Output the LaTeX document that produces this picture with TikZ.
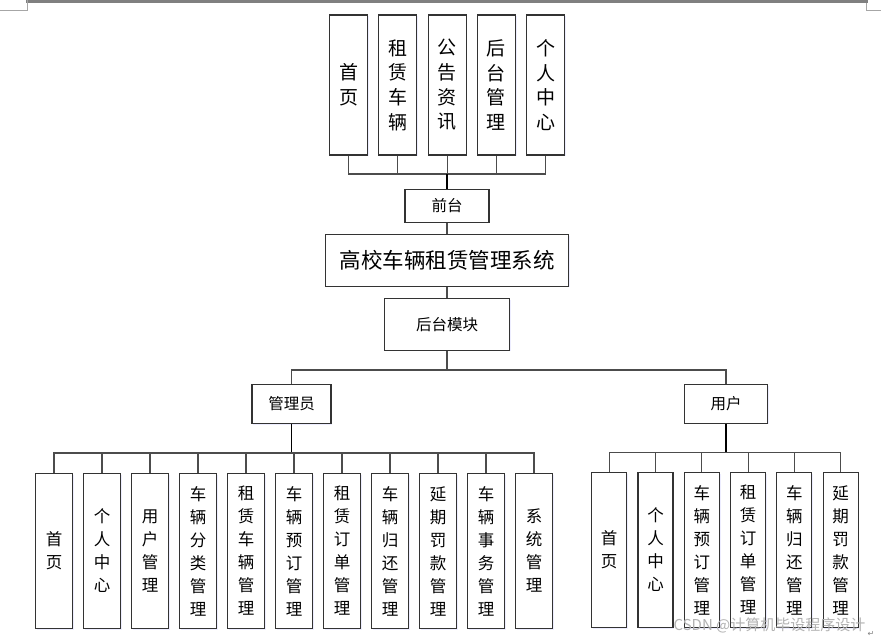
\documentclass[tikz,border=0pt]{standalone}
\usepackage{fontspec}
\newfontfamily\cjk{Noto Sans CJK SC}
\newfontfamily\dejavu{DejaVu Sans}
\usetikzlibrary{shadows}
\begin{document}
\begin{tikzpicture}[x=1pt,y=-1pt,
  box/.style={draw=black!80, line width=1.1pt, fill=white, inner sep=0pt, align=center,
    drop shadow={shadow xshift=1.2pt, shadow yshift=-1.2pt, fill=blue!20, opacity=0.35}},
  tallbox/.style={box, minimum width=38pt, minimum height=140pt, font=\cjk\fontsize{19}{24.7}\selectfont},
  lowbox/.style={box, minimum width=37pt, minimum height=155.4pt, font=\cjk\fontsize{16.5}{23}\selectfont},
  lowboxr/.style={lowbox, minimum width=35pt},
  labbox/.style={box, font=\cjk\fontsize{15.5}{18}\selectfont},
  conn/.style={draw=black!70, line width=1.1pt},
  trunk/.style={draw=black, line width=1.8pt}
]
\useasboundingbox (0,0) rectangle (881,640);
% page marks
\fill[black!50] (26,0) rectangle (868,3.2);
\draw[black!35, line width=0.8pt] (0,10) -- (27,10) -- (27,0);
\draw[black!35, line width=0.8pt] (866,3) -- (866,10) -- (881,10);

% top row
\node[tallbox] (t1) at (348.5,85) {首\\页};
\node[tallbox] (t2) at (397.8,85) {租\\赁\\车\\辆};
\node[tallbox] (t3) at (447.1,85) {公\\告\\资\\讯};
\node[tallbox] (t4) at (496.3,85) {后\\台\\管\\理};
\node[tallbox] (t5) at (545.5,85) {个\\人\\中\\心};

\node[labbox, minimum width=84pt, minimum height=32.7pt] (qt) at (447,205.7) {前台};
\node[box, minimum width=242.6pt, minimum height=51.7pt, font=\cjk\fontsize{21.5}{24}\selectfont] (sys) at (447,260.2) {高校车辆租赁管理系统};
\node[labbox, minimum width=125pt, minimum height=51.7pt] (hm) at (447,324.2) {后台模块};
\node[labbox, minimum width=79pt, minimum height=39.3pt] (gly) at (291.5,403.7) {管理员};
\node[labbox, minimum width=83.4pt, minimum height=38.3pt] (yh) at (726,404) {用户};

% bottom left
\node[lowbox] (a1) at (54,551) {首\\页};
\node[lowbox] (a2) at (102,551) {个\\人\\中\\心};
\node[lowbox] (a3) at (150,551) {用\\户\\管\\理};
\node[lowbox] (a4) at (198,551) {车\\辆\\分\\类\\管\\理};
\node[lowbox] (a5) at (246,551) {租\\赁\\车\\辆\\管\\理};
\node[lowbox] (a6) at (294,551) {车\\辆\\预\\订\\管\\理};
\node[lowbox] (a7) at (342,551) {租\\赁\\订\\单\\管\\理};
\node[lowbox] (a8) at (390,551) {车\\辆\\归\\还\\管\\理};
\node[lowbox] (a9) at (438,551) {延\\期\\罚\\款\\管\\理};
\node[lowbox] (a10) at (486,551) {车\\辆\\事\\务\\管\\理};
\node[lowbox] (a11) at (534,551) {系\\统\\管\\理};

% bottom right
\node[lowboxr] (b1) at (609.2,550) {首\\页};
\node[lowboxr] (b2) at (655.5,550) {个\\人\\中\\心};
\node[lowboxr] (b3) at (701.8,550) {车\\辆\\预\\订\\管\\理};
\node[lowboxr] (b4) at (748.1,550) {租\\赁\\订\\单\\管\\理};
\node[lowboxr] (b5) at (794.4,550) {车\\辆\\归\\还\\管\\理};
\node[lowboxr] (b6) at (840.7,550) {延\\期\\罚\\款\\管\\理};

% connectors
\coordinate (tb) at (447,174);
\foreach \n in {t1,t2,t3,t4,t5} \draw[conn] (\n.south) |- (tb);
\draw[trunk] (tb) -- (qt.north);
\draw[conn] (qt.south) -- (sys.north);
\draw[conn] (sys.south) -- (hm.north);
\coordinate (hb) at (447,370);
\draw[conn] (hm.south) -- (hb);
\draw[conn] (gly.north) |- (hb);
\draw[conn] (yh.north) |- (hb);

\coordinate (gb) at (291.5,453);
\draw[trunk] (gly.south) -- (gb);
\foreach \n in {a1,a2,a3,a4,a5,a6,a7,a8,a9,a10,a11} \draw[conn] (\n.north) |- (gb);
\coordinate (ub) at (726,452.3);
\draw[trunk] (yh.south) -- (ub);
\foreach \n in {b1,b2,b3,b4,b5,b6} \draw[conn] (\n.north) |- (ub);

% watermark and mark
\node[text=black!30, font=\cjk\fontsize{15}{17}\selectfont, inner sep=0pt] (wm) at (769.5,625) {CSDN @计算机毕设程序设计};
\node[text=black!50, font=\dejavu\fontsize{8}{9}\selectfont, inner sep=0pt] (ret) at (871,634) {↵};
\end{tikzpicture}
\end{document}
